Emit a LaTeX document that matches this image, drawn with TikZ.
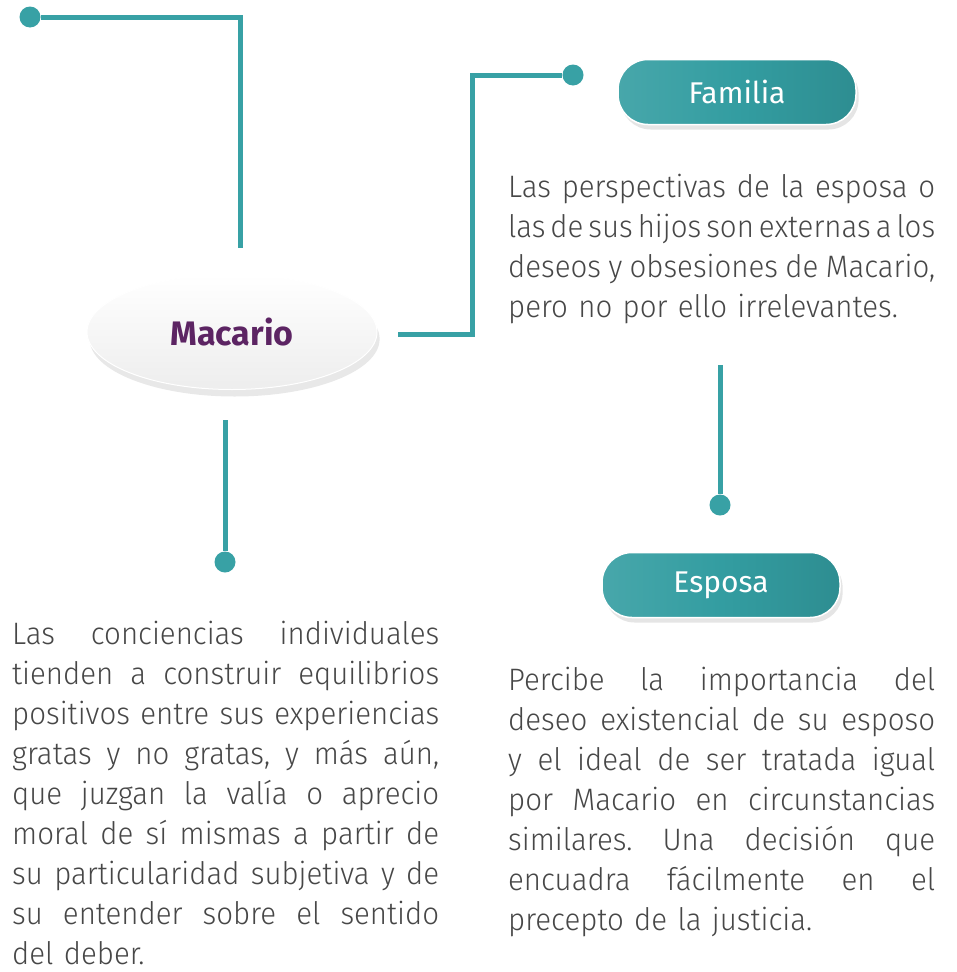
\documentclass[tikz,border=0pt]{standalone}
\usepackage{fontspec}
\setmainfont{Fira Sans Light}[FakeStretch=0.95]
\newfontfamily\tagfont{Fira Sans}
\usetikzlibrary{shapes.geometric,shadows}
\definecolor{lineteal}{HTML}{38A1A5}
\definecolor{boxteal}{HTML}{339DA1}
\definecolor{namepurple}{HTML}{5C2463}
\definecolor{textgray}{HTML}{474747}
% one justified line of a paragraph
\newcommand\fitline[1]{\hbox to \hsize{\frenchspacing\spaceskip=0.12em plus 1fil\relax #1}}
\newcommand\lastline[1]{\hbox{#1}}
\tikzset{
  enddot/.style={circle,fill=lineteal,inner sep=0pt,minimum size=21pt},
  link/.style={draw=lineteal,line width=5pt},
  tagbox/.style={rounded corners=30pt,minimum width=238pt,minimum height=65pt,
    draw=white,line width=1.5pt,left color=boxteal!90!white,right color=boxteal!90!black,
    middle color=boxteal,drop shadow={shadow yshift=-5pt,opacity=0.2},
    text=white,font=\tagfont\fontsize{30}{34}\selectfont},
  para/.style={anchor=north west,inner sep=0pt,text width=427pt,
    text=textgray,font=\fontsize{31}{40}\selectfont}
}

\begin{document}
\begin{tikzpicture}[x=1pt,y=-1pt]
  \useasboundingbox[fill=white] (0,0) rectangle (956,972);
  % central name
  \node[ellipse,minimum width=290pt,minimum height=115pt,draw=white,line width=1pt,
    top color=white,bottom color=gray!14,drop shadow={shadow yshift=-7pt,opacity=0.18}]
    (macario) at (232,332) {\bfseries\tagfont\fontsize{34}{36}\selectfont\color{namepurple}Macario};
  \node[tagbox] (familia) at (737,92) {Familia};
  \node[tagbox] (esposa) at (721,585) {Esposa};
  % dots and line ends
  \node[enddot] (d1) at (30,17) {};
  \node[enddot] (d2) at (573,75) {};
  \node[enddot] (d3) at (720,505) {};
  \node[enddot] (d4) at (225,562) {};
  \coordinate (m1) at (240,248);
  \coordinate (m2) at (398,334);
  \coordinate (k2) at (472,75);
  \coordinate (m3) at (720,365);
  \coordinate (m4) at (225,420);
  \draw[link] (d1) -| (m1);
  \draw[link] (m2) -| (k2) -- (d2);
  \draw[link] (m3) -- (d3);
  \draw[link] (m4) -- (d4);
  % texts
  \node[para] (tfam) at (508,174) {\fitline{Las perspectivas de la esposa o}
    \fitline{las de sus hijos son externas a los}
    \fitline{deseos y obsesiones de Macario,}
    \lastline{pero no por ello irrelevantes.}};
  \node[para] (tmac) at (12,621) {\fitline{Las conciencias individuales}
    \fitline{tienden a construir equilibrios}
    \fitline{positivos entre sus experiencias}
    \fitline{gratas y no gratas, y más aún,}
    \fitline{que juzgan la valía o aprecio}
    \fitline{moral de sí mismas a partir de}
    \fitline{su particularidad subjetiva y de}
    \fitline{su entender sobre el sentido}
    \lastline{del deber.}};
  \node[para] (tesp) at (508,667) {\fitline{Percibe la importancia del}
    \fitline{deseo existencial de su esposo}
    \fitline{y el ideal de ser tratada igual}
    \fitline{por Macario en circunstancias}
    \fitline{similares. Una decisión que}
    \fitline{encuadra fácilmente en el}
    \lastline{precepto de la justicia.}};
\end{tikzpicture}
\end{document}
